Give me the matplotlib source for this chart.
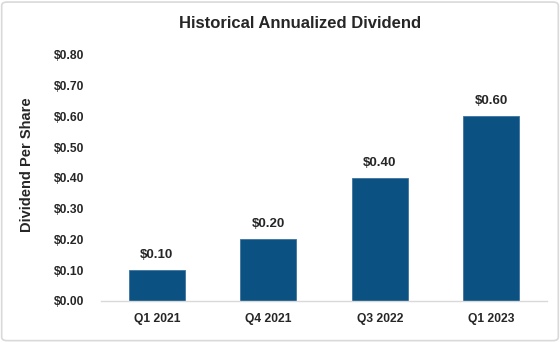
import matplotlib
matplotlib.use("Agg")
import matplotlib.pyplot as plt
from matplotlib.patches import FancyBboxPatch

# datos
trimestres = ["Q1 2021", "Q4 2021", "Q3 2022", "Q1 2023"]
dividendos = [0.10, 0.20, 0.40, 0.60]
ticks_y = [0.0, 0.1, 0.2, 0.3, 0.4, 0.5, 0.6, 0.7, 0.8]

plt.rcParams['font.family'] = ['Liberation Sans', 'DejaVu Sans']
texto = '#262626'

fig = plt.figure(figsize=(5.6, 3.42), dpi=100)
ax = fig.add_axes([0.1804, 0.1199, 0.7964, 0.7193])

# marco gris del gráfico
borde = FancyBboxPatch((0.003, 0.004), 0.994, 0.99, boxstyle="round,pad=0,rounding_size=0.01",
                       transform=fig.transFigure, facecolor='white', edgecolor='#d9d9d9',
                       linewidth=1.2, zorder=-10)
fig.patches.append(borde)

x = range(len(trimestres))
barras = ax.bar(x, dividendos, width=0.5, color='#0b5283', edgecolor='#3d74a0', linewidth=0.6)

for xi, v in zip(x, dividendos):
    ax.text(xi, v + 0.03, f"${v:.2f}", ha='center', va='bottom', fontsize=9.5,
            fontweight='bold', color=texto)

ax.set_xlim(-0.5, 3.5)
ax.set_ylim(0, 0.8)
ax.set_yticks(ticks_y)
ax.set_yticklabels([f"${t:.2f}" for t in ticks_y])
ax.set_xticks(list(x))
ax.set_xticklabels(trimestres)
for lbl in ax.get_xticklabels() + ax.get_yticklabels():
    lbl.set_fontweight('bold')
    lbl.set_fontsize(8.7)
    lbl.set_color(texto)
ax.tick_params(length=0)
ax.tick_params(axis='y', pad=12)
ax.tick_params(axis='x', pad=9)

for lado in ['top', 'right', 'left']:
    ax.spines[lado].set_visible(False)
ax.spines['bottom'].set_color('#d9d9d9')
ax.spines['bottom'].set_linewidth(1)

fig.text(27 / 560, 0.518, 'Dividend Per Share', rotation=90, ha='center', va='center',
         fontsize=10.5, fontweight='bold', color=texto)
fig.text(0.536, 0.93, 'Historical Annualized Dividend', ha='center', va='center',
         fontsize=12, fontweight='bold', color=texto)

fig.savefig('out.png', dpi=100)
